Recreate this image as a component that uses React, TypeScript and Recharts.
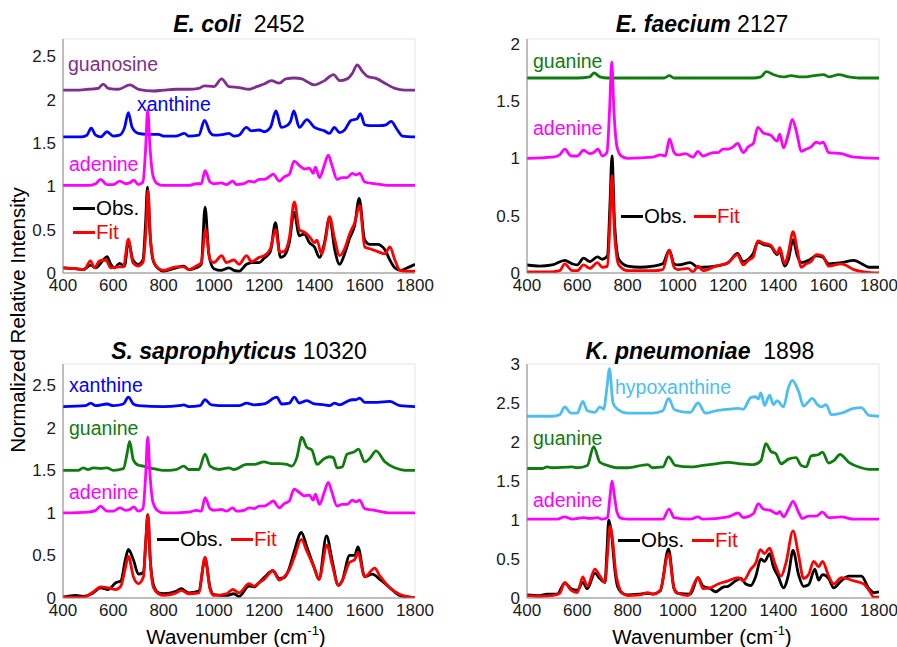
import React from 'react';
import { LineChart, Line, XAxis, YAxis, CartesianGrid } from 'recharts';

type P = [number, number][];

// ---------- E. coli 2452 ----------
const ecoliGuanosine: P = [[400,2.11],[450,2.11],[500,2.12],[540,2.13],[560,2.18],[580,2.13],[620,2.12],[666,2.17],[700,2.12],[760,2.10],[800,2.11],[850,2.12],[900,2.12],[940,2.13],[962,2.16],[1000,2.15],[1031,2.24],[1060,2.15],[1100,2.14],[1140,2.12],[1170,2.15],[1200,2.18],[1229,2.22],[1260,2.19],[1286,2.24],[1320,2.25],[1350,2.24],[1375,2.20],[1399,2.17],[1440,2.22],[1476,2.29],[1500,2.22],[1530,2.24],[1550,2.30],[1570,2.40],[1590,2.33],[1610,2.27],[1650,2.24],[1680,2.19],[1720,2.13],[1760,2.11],[1800,2.11]];
const ecoliXanthine: P = [[400,1.57],[470,1.57],[495,1.59],[512,1.67],[530,1.59],[550,1.57],[575,1.63],[600,1.58],[625,1.59],[645,1.68],[660,1.85],[675,1.68],[700,1.61],[730,1.60],[780,1.60],[800,1.58],[850,1.58],[883,1.61],[900,1.58],[940,1.59],[963,1.76],[985,1.62],[1000,1.59],[1040,1.60],[1060,1.61],[1080,1.58],[1100,1.59],[1129,1.68],[1150,1.64],[1180,1.65],[1200,1.63],[1225,1.68],[1247,1.87],[1268,1.68],[1290,1.70],[1305,1.75],[1318,1.87],[1340,1.68],[1370,1.77],[1400,1.68],[1440,1.64],[1460,1.61],[1479,1.68],[1500,1.62],[1520,1.65],[1545,1.76],[1570,1.78],[1583,1.84],[1600,1.71],[1620,1.70],[1660,1.70],[1685,1.71],[1705,1.75],[1730,1.65],[1750,1.58],[1800,1.57]];
const ecoliAdenine: P = [[400,1.01],[500,1.01],[530,1.03],[549,1.08],[575,1.02],[600,1.02],[626,1.06],[650,1.03],[665,1.04],[682,1.07],[700,1.02],[718,1.05],[728,1.40],[737,1.88],[746,1.45],[758,1.12],[775,1.03],[800,1.01],[900,1.01],[930,1.03],[950,1.03],[965,1.18],[985,1.05],[1000,1.03],[1030,1.04],[1050,1.02],[1075,1.06],[1090,1.02],[1120,1.03],[1140,1.06],[1160,1.05],[1180,1.08],[1200,1.08],[1220,1.11],[1236,1.14],[1260,1.06],[1280,1.11],[1300,1.14],[1319,1.29],[1340,1.24],[1360,1.20],[1380,1.21],[1395,1.15],[1404,1.22],[1420,1.10],[1440,1.25],[1455,1.36],[1470,1.24],[1490,1.08],[1510,1.10],[1530,1.10],[1550,1.15],[1565,1.13],[1580,1.15],[1600,1.05],[1640,1.03],[1700,1.01],[1800,1.01]];
const ecoliObs: P = [[400,0.06],[450,0.05],[480,0.04],[510,0.09],[530,0.06],[560,0.15],[575,0.19],[590,0.10],[605,0.06],[625,0.11],[645,0.08],[660,0.37],[678,0.15],[700,0.10],[718,0.15],[728,0.55],[736,0.99],[746,0.45],[760,0.13],[780,0.05],[800,0.02],[850,0.06],[880,0.08],[900,0.04],[930,0.06],[950,0.10],[965,0.76],[980,0.22],[1000,0.05],[1030,0.03],[1060,0.06],[1080,0.03],[1100,0.02],[1130,0.10],[1150,0.12],[1180,0.12],[1200,0.17],[1225,0.25],[1245,0.58],[1265,0.18],[1280,0.20],[1300,0.35],[1319,0.70],[1340,0.43],[1360,0.45],[1380,0.35],[1400,0.30],[1420,0.18],[1440,0.35],[1460,0.64],[1480,0.28],[1500,0.10],[1520,0.22],[1540,0.40],[1560,0.55],[1578,0.86],[1600,0.38],[1620,0.33],[1650,0.33],[1680,0.27],[1700,0.15],[1720,0.06],[1745,0.03],[1770,0.06],[1800,0.10]];
const ecoliFit: P = [[400,0.06],[450,0.05],[485,0.04],[509,0.14],[525,0.06],[545,0.14],[570,0.15],[590,0.06],[620,0.07],[640,0.07],[660,0.39],[678,0.12],[700,0.08],[718,0.12],[730,0.50],[738,0.95],[748,0.40],[762,0.12],[780,0.05],[800,0.03],[850,0.07],[880,0.07],[900,0.04],[930,0.08],[950,0.12],[967,0.50],[985,0.15],[1000,0.12],[1031,0.20],[1050,0.12],[1080,0.15],[1100,0.10],[1130,0.20],[1150,0.13],[1180,0.18],[1200,0.20],[1225,0.28],[1245,0.50],[1262,0.24],[1280,0.25],[1300,0.40],[1320,0.82],[1340,0.50],[1360,0.47],[1380,0.42],[1400,0.35],[1410,0.38],[1428,0.22],[1445,0.40],[1460,0.65],[1480,0.40],[1500,0.20],[1520,0.28],[1540,0.45],[1560,0.58],[1580,0.78],[1600,0.30],[1620,0.28],[1650,0.25],[1680,0.22],[1700,0.30],[1720,0.15],[1740,0.03],[1760,0.02],[1800,0.02]];

// ---------- E. faecium 2127 ----------
const efGuanine: P = [[400,1.70],[600,1.70],[650,1.71],[666,1.745],[690,1.71],[720,1.70],[900,1.70],[945,1.70],[966,1.72],[985,1.70],[1300,1.70],[1330,1.71],[1352,1.755],[1380,1.73],[1420,1.71],[1450,1.72],[1490,1.71],[1510,1.71],[1540,1.72],[1580,1.73],[1600,1.71],[1640,1.73],[1680,1.71],[1720,1.70],[1800,1.70]];
const efAdenine: P = [[400,1.00],[500,1.01],[530,1.03],[550,1.08],[575,1.02],[600,1.02],[625,1.07],[650,1.04],[665,1.05],[682,1.08],[700,1.02],[718,1.05],[728,1.40],[737,1.84],[746,1.40],[758,1.10],[775,1.02],[800,1.00],[900,1.01],[930,1.03],[950,1.02],[967,1.17],[985,1.05],[1000,1.03],[1030,1.04],[1060,1.01],[1080,1.06],[1100,1.02],[1140,1.05],[1160,1.05],[1180,1.08],[1200,1.08],[1220,1.10],[1238,1.13],[1260,1.05],[1280,1.10],[1300,1.13],[1318,1.27],[1340,1.22],[1370,1.20],[1395,1.15],[1405,1.21],[1420,1.09],[1440,1.22],[1455,1.34],[1475,1.20],[1490,1.06],[1510,1.08],[1530,1.10],[1550,1.14],[1565,1.13],[1578,1.14],[1600,1.05],[1650,1.04],[1700,1.01],[1800,1.00]];
const efObs: P = [[400,0.07],[450,0.06],[500,0.07],[550,0.11],[580,0.08],[600,0.07],[625,0.13],[650,0.10],[680,0.14],[700,0.12],[720,0.15],[730,0.60],[738,1.02],[748,0.45],[765,0.12],[800,0.06],[850,0.05],[900,0.06],[940,0.08],[966,0.20],[985,0.08],[1000,0.07],[1050,0.09],[1080,0.05],[1100,0.05],[1150,0.06],[1200,0.09],[1237,0.17],[1260,0.10],[1280,0.12],[1300,0.17],[1318,0.27],[1340,0.25],[1370,0.23],[1395,0.16],[1405,0.19],[1425,0.06],[1440,0.12],[1458,0.29],[1475,0.15],[1490,0.09],[1520,0.11],[1550,0.15],[1575,0.14],[1600,0.08],[1650,0.09],[1700,0.11],[1740,0.07],[1760,0.05],[1800,0.05]];
const efFit: P = [[400,0.01],[500,0.01],[530,0.02],[550,0.08],[580,0.02],[600,0.02],[625,0.07],[650,0.04],[680,0.09],[700,0.05],[720,0.06],[730,0.45],[738,0.85],[748,0.35],[765,0.07],[800,0.02],[900,0.02],[940,0.03],[966,0.20],[985,0.05],[1000,0.03],[1040,0.04],[1060,0.01],[1080,0.06],[1100,0.02],[1150,0.06],[1200,0.09],[1237,0.16],[1260,0.07],[1280,0.11],[1300,0.14],[1318,0.28],[1340,0.26],[1370,0.24],[1395,0.17],[1405,0.22],[1425,0.08],[1440,0.18],[1458,0.36],[1475,0.20],[1490,0.05],[1510,0.08],[1530,0.10],[1550,0.16],[1575,0.15],[1600,0.06],[1650,0.08],[1700,0.03],[1740,0.01],[1800,0.00]];

// ---------- S. saprophyticus 10320 ----------
const ssXanthine: P = [[400,2.25],[490,2.26],[510,2.29],[530,2.26],[575,2.28],[600,2.26],[640,2.28],[660,2.36],[680,2.28],[700,2.26],[800,2.25],[860,2.26],[880,2.27],[900,2.25],[945,2.26],[965,2.33],[990,2.27],[1050,2.26],[1100,2.26],[1130,2.29],[1160,2.27],[1200,2.28],[1250,2.36],[1270,2.28],[1300,2.29],[1320,2.36],[1340,2.29],[1370,2.32],[1400,2.28],[1440,2.27],[1460,2.26],[1480,2.29],[1500,2.27],[1530,2.31],[1550,2.33],[1565,2.33],[1580,2.35],[1600,2.30],[1650,2.30],[1700,2.31],[1740,2.26],[1800,2.25]];
const ssGuanine: P = [[400,1.50],[460,1.50],[480,1.53],[500,1.51],[520,1.53],[550,1.52],[575,1.53],[600,1.50],[640,1.52],[655,1.70],[665,1.84],[680,1.62],[700,1.56],[720,1.55],[740,1.53],[760,1.52],[800,1.50],[850,1.51],[880,1.55],[900,1.51],[940,1.51],[965,1.69],[985,1.55],[1020,1.51],[1060,1.53],[1080,1.51],[1130,1.57],[1160,1.57],[1200,1.60],[1230,1.58],[1260,1.58],[1290,1.57],[1310,1.55],[1330,1.65],[1350,1.89],[1370,1.77],[1390,1.74],[1410,1.57],[1440,1.64],[1460,1.66],[1475,1.65],[1490,1.53],[1510,1.54],[1530,1.69],[1560,1.72],[1575,1.75],[1600,1.60],[1620,1.64],[1645,1.73],[1680,1.60],[1720,1.53],[1760,1.50],[1800,1.50]];
const ssAdenine: P = [[400,1.00],[500,1.01],[530,1.03],[549,1.08],[575,1.02],[600,1.02],[626,1.06],[650,1.03],[665,1.04],[682,1.07],[700,1.02],[718,1.05],[728,1.40],[737,1.89],[746,1.45],[758,1.12],[775,1.03],[800,1.00],[900,1.01],[930,1.03],[950,1.02],[965,1.18],[985,1.05],[1000,1.03],[1030,1.04],[1050,1.02],[1075,1.06],[1090,1.02],[1120,1.03],[1140,1.06],[1160,1.05],[1180,1.08],[1200,1.08],[1220,1.11],[1236,1.14],[1260,1.06],[1280,1.11],[1300,1.14],[1319,1.28],[1340,1.24],[1360,1.20],[1380,1.21],[1395,1.15],[1404,1.22],[1420,1.10],[1440,1.25],[1455,1.36],[1470,1.24],[1490,1.08],[1510,1.10],[1530,1.10],[1550,1.15],[1565,1.13],[1580,1.15],[1600,1.05],[1640,1.03],[1700,1.00],[1800,1.00]];
const ssObs: P = [[400,0.01],[450,0.03],[480,0.02],[520,0.06],[550,0.12],[580,0.10],[610,0.18],[630,0.20],[648,0.45],[660,0.57],[680,0.45],[700,0.28],[720,0.30],[729,0.65],[737,0.98],[747,0.45],[760,0.15],[780,0.06],[800,0.05],[850,0.08],[870,0.11],[900,0.06],[940,0.08],[965,0.46],[985,0.12],[1000,0.04],[1050,0.03],[1080,0.05],[1100,0.02],[1140,0.14],[1160,0.13],[1180,0.18],[1200,0.24],[1235,0.32],[1260,0.23],[1280,0.24],[1300,0.35],[1320,0.55],[1348,0.77],[1370,0.60],[1400,0.35],[1418,0.22],[1448,0.73],[1470,0.45],[1495,0.15],[1510,0.20],[1540,0.50],[1560,0.50],[1573,0.60],[1600,0.25],[1630,0.28],[1660,0.22],[1700,0.12],[1740,0.03],[1780,0.01],[1800,0.00]];
const ssFit: P = [[400,0.01],[450,0.01],[480,0.01],[520,0.07],[550,0.13],[580,0.12],[610,0.10],[630,0.14],[648,0.35],[660,0.49],[680,0.25],[700,0.17],[720,0.25],[729,0.65],[738,0.98],[748,0.40],[760,0.12],[780,0.05],[800,0.03],[850,0.06],[870,0.09],[900,0.05],[940,0.06],[965,0.48],[985,0.10],[1000,0.03],[1050,0.05],[1075,0.10],[1100,0.06],[1140,0.17],[1160,0.14],[1180,0.18],[1200,0.22],[1235,0.32],[1260,0.21],[1280,0.25],[1300,0.33],[1320,0.48],[1348,0.69],[1370,0.55],[1400,0.35],[1418,0.22],[1450,0.62],[1470,0.40],[1495,0.15],[1510,0.20],[1540,0.42],[1560,0.45],[1573,0.53],[1600,0.25],[1640,0.35],[1660,0.26],[1700,0.12],[1740,0.04],[1780,0.01],[1800,0.00]];

// ---------- K. pneumoniae 1898 ----------
const kpHypoxanthine: P = [[400,2.33],[500,2.33],[530,2.35],[550,2.45],[575,2.37],[600,2.37],[622,2.52],[640,2.40],[670,2.38],[690,2.45],[705,2.42],[718,2.70],[728,2.94],[742,2.50],[760,2.42],[800,2.37],[900,2.37],[940,2.40],[963,2.56],[985,2.42],[1000,2.40],[1050,2.38],[1080,2.50],[1110,2.37],[1150,2.40],[1200,2.42],[1240,2.43],[1260,2.42],[1290,2.57],[1310,2.58],[1320,2.55],[1330,2.63],[1345,2.47],[1365,2.60],[1380,2.48],[1395,2.53],[1420,2.45],[1440,2.70],[1455,2.79],[1480,2.65],[1500,2.46],[1520,2.52],[1535,2.56],[1555,2.48],[1570,2.45],[1590,2.48],[1610,2.35],[1650,2.37],[1700,2.43],[1730,2.44],[1760,2.34],[1800,2.33]];
const kpGuanine: P = [[400,1.66],[460,1.66],[480,1.68],[500,1.67],[580,1.68],[600,1.67],[640,1.70],[665,1.94],[690,1.74],[720,1.70],[760,1.67],[800,1.67],[880,1.71],[900,1.67],[940,1.68],[963,1.81],[990,1.70],[1050,1.68],[1100,1.70],[1150,1.72],[1200,1.74],[1250,1.72],[1300,1.71],[1330,1.76],[1350,1.98],[1370,1.88],[1390,1.85],[1410,1.72],[1440,1.78],[1470,1.80],[1490,1.70],[1510,1.68],[1530,1.82],[1560,1.84],[1575,1.87],[1600,1.73],[1620,1.76],[1645,1.84],[1680,1.74],[1720,1.68],[1760,1.65],[1800,1.65]];
const kpAdenine: P = [[400,1.01],[520,1.01],[550,1.04],[580,1.01],[625,1.03],[650,1.02],[680,1.03],[700,1.01],[720,1.03],[730,1.30],[738,1.50],[748,1.30],[758,1.10],[775,1.02],[800,1.01],[940,1.01],[965,1.14],[985,1.03],[1050,1.01],[1080,1.04],[1100,1.01],[1200,1.04],[1240,1.09],[1260,1.03],[1300,1.08],[1320,1.21],[1340,1.14],[1370,1.12],[1395,1.08],[1405,1.11],[1420,1.04],[1440,1.14],[1458,1.24],[1480,1.10],[1495,1.02],[1520,1.05],[1550,1.05],[1575,1.10],[1600,1.03],[1650,1.04],[1700,1.01],[1800,1.01]];
const kpObs: P = [[400,0.04],[450,0.03],[480,0.05],[520,0.05],[550,0.19],[575,0.12],[600,0.10],[622,0.20],[640,0.12],[670,0.32],[690,0.25],[710,0.20],[718,0.60],[725,1.00],[737,0.80],[748,0.40],[760,0.15],[780,0.06],[800,0.04],[850,0.05],[880,0.06],[900,0.05],[930,0.09],[963,0.63],[985,0.12],[1000,0.06],[1050,0.05],[1080,0.26],[1100,0.15],[1130,0.12],[1150,0.08],[1180,0.14],[1200,0.15],[1230,0.22],[1250,0.25],[1270,0.18],[1290,0.16],[1310,0.28],[1330,0.50],[1345,0.47],[1365,0.57],[1380,0.40],[1400,0.27],[1420,0.13],[1440,0.30],[1458,0.61],[1480,0.30],[1500,0.15],[1520,0.17],[1545,0.37],[1560,0.23],[1575,0.30],[1600,0.25],[1620,0.13],[1650,0.22],[1680,0.28],[1700,0.28],[1730,0.28],[1760,0.12],[1780,0.07],[1800,0.08]];
const kpFit: P = [[400,0.03],[450,0.02],[500,0.03],[530,0.06],[550,0.20],[575,0.10],[600,0.07],[622,0.27],[640,0.15],[670,0.37],[690,0.28],[710,0.20],[720,0.55],[730,0.92],[742,0.70],[752,0.35],[765,0.15],[780,0.06],[800,0.03],[850,0.04],[880,0.07],[900,0.05],[930,0.10],[963,0.57],[985,0.12],[1000,0.06],[1040,0.03],[1080,0.26],[1100,0.12],[1130,0.13],[1160,0.18],[1200,0.22],[1240,0.26],[1260,0.22],[1290,0.37],[1310,0.45],[1328,0.62],[1345,0.57],[1365,0.64],[1385,0.45],[1410,0.28],[1430,0.45],[1458,0.86],[1480,0.55],[1500,0.25],[1520,0.30],[1540,0.47],[1560,0.40],[1575,0.47],[1600,0.28],[1620,0.18],[1650,0.26],[1700,0.22],[1740,0.18],[1760,0.10],[1780,0.01],[1800,0.01]];

const xTicks = [400, 600, 800, 1000, 1200, 1400, 1600, 1800];
const minorTicks = Array.from({ length: 71 }, (_, i) => 400 + i * 20);

const C = {
  obs: '#000000',
  fit: '#ff0000',
  adenine: '#ff00ff',
  xanthine: '#0000ff',
  guanine: '#107c10',
  guanosine: '#7e2f8e',
  hypoxanthine: '#4dbeee',
};

const FONT = '"Liberation Sans", Arial, Helvetica, sans-serif';

type Series = { data: P; color: string };

type Label = { text: string; color: string; left: number; top: number };

type PanelProps = {
  left: number;
  top: number;
  yMax: number;
  yTicks: number[];
  series: Series[];
};

const toRows = (p: P) => p.map(([x, y]) => ({ x, y }));

const PLOT_W = 352;
const PLOT_H = 234;
const YAX_W = 40;
const M_TOP = 10;
const M_RIGHT = 24;
const XAX_H = 30;

function Panel({ left, top, yMax, yTicks, series }: PanelProps) {
  const width = YAX_W + PLOT_W + M_RIGHT;
  const height = M_TOP + PLOT_H + XAX_H;
  return (
    <div style={{ position: 'absolute', left: left - YAX_W, top: top - M_TOP }}>
      <LineChart width={width} height={height} margin={{ top: M_TOP, right: M_RIGHT, left: 0, bottom: 0 }}>
        <CartesianGrid stroke="#e6e6e6" strokeWidth={1} />
        <XAxis
          xAxisId="b"
          type="number"
          dataKey="x"
          domain={[400, 1800]}
          ticks={xTicks}
          allowDataOverflow
          interval={0}
          height={XAX_H}
          tickLine={false}
          tickSize={5}
          tickMargin={1}
          axisLine={{ stroke: '#888', strokeWidth: 1 }}
          tick={{ fontSize: 17, fill: '#1a1a1a', fontFamily: FONT }}
        />
        <XAxis
          xAxisId="t"
          orientation="top"
          type="number"
          dataKey="x"
          domain={[400, 1800]}
          ticks={minorTicks}
          interval={0}
          height={0}
          mirror
          tickSize={2}
          tickFormatter={() => ''}
          tickLine={{ stroke: '#999' }}
          axisLine={{ stroke: '#888', strokeWidth: 1 }}
        />
        <YAxis
          yAxisId="l"
          type="number"
          domain={[0, yMax]}
          ticks={yTicks}
          allowDataOverflow
          interval={0}
          width={YAX_W}
          tickLine={false}
          tickSize={5}
          tickMargin={2}
          axisLine={{ stroke: '#888', strokeWidth: 1 }}
          tick={{ fontSize: 17, fill: '#1a1a1a', fontFamily: FONT }}
        />
        <YAxis
          yAxisId="r"
          orientation="right"
          type="number"
          domain={[0, yMax]}
          ticks={yTicks}
          interval={0}
          width={0}
          mirror
          tickSize={4}
          tickFormatter={() => ''}
          tickLine={{ stroke: '#888' }}
          axisLine={{ stroke: '#888', strokeWidth: 1 }}
        />
        {series.map((s, i) => (
          <Line
            key={i}
            xAxisId="b"
            yAxisId="l"
            data={toRows(s.data)}
            dataKey="y"
            type="monotone"
            stroke={s.color}
            strokeWidth={2.8}
            dot={false}
            activeDot={false}
            isAnimationActive={false}
          />
        ))}
      </LineChart>
    </div>
  );
}

function Title({ cx, cy, italic, num }: { cx: number; cy: number; italic: string; num: string }) {
  return (
    <div
      style={{
        position: 'absolute',
        left: cx - 220,
        top: cy - 14,
        width: 440,
        textAlign: 'center',
        fontFamily: FONT,
        fontSize: 23,
        lineHeight: '28px',
        color: '#000',
        whiteSpace: 'pre',
      }}
    >
      <span style={{ fontWeight: 'bold', fontStyle: 'italic' }}>{italic}</span>
      <span>{num}</span>
    </div>
  );
}

function Tag({ text, color, left, top }: Label) {
  return (
    <div
      style={{
        position: 'absolute',
        left,
        top: top - 12,
        fontFamily: FONT,
        fontSize: 19.5,
        lineHeight: '24px',
        color,
        whiteSpace: 'nowrap',
      }}
    >
      {text}
    </div>
  );
}

function LegItem({ left, cy, color, text }: { left: number; cy: number; color: string; text: string }) {
  return (
    <div style={{ position: 'absolute', left, top: cy - 12, height: 24, display: 'flex', alignItems: 'center' }}>
      <div style={{ width: 22, height: 3, background: color, marginRight: 1 }} />
      <span style={{ fontFamily: FONT, fontSize: 20.5, lineHeight: '24px', color }}>{text}</span>
    </div>
  );
}

function XLabel({ cx, cy }: { cx: number; cy: number }) {
  return (
    <div
      style={{
        position: 'absolute',
        left: cx - 150,
        top: cy - 12,
        width: 300,
        textAlign: 'center',
        fontFamily: FONT,
        fontSize: 20.5,
        lineHeight: '24px',
        color: '#000',
      }}
    >
      Wavenumber (cm<sup style={{ fontSize: 13, verticalAlign: 'top', lineHeight: '12px' }}>-1</sup>)
    </div>
  );
}

export default function App() {
  return (
    <div
      style={{
        position: 'absolute',
        left: 0,
        top: 0,
        width: 897,
        height: 647,
        background: '#fff',
        overflow: 'hidden',
      }}
    >
      <Panel
        left={62.7}
        top={39}
        yMax={2.7}
        yTicks={[0, 0.5, 1, 1.5, 2, 2.5]}
        series={[
          { data: ecoliGuanosine, color: C.guanosine },
          { data: ecoliXanthine, color: C.xanthine },
          { data: ecoliAdenine, color: C.adenine },
          { data: ecoliObs, color: C.obs },
          { data: ecoliFit, color: C.fit },
        ]}
      />
      <Panel
        left={526.7}
        top={39}
        yMax={2.04}
        yTicks={[0, 0.5, 1, 1.5, 2]}
        series={[
          { data: efGuanine, color: C.guanine },
          { data: efAdenine, color: C.adenine },
          { data: efObs, color: C.obs },
          { data: efFit, color: C.fit },
        ]}
      />
      <Panel
        left={62.7}
        top={364.3}
        yMax={2.75}
        yTicks={[0, 0.5, 1, 1.5, 2, 2.5]}
        series={[
          { data: ssXanthine, color: C.xanthine },
          { data: ssGuanine, color: C.guanine },
          { data: ssAdenine, color: C.adenine },
          { data: ssObs, color: C.obs },
          { data: ssFit, color: C.fit },
        ]}
      />
      <Panel
        left={526.7}
        top={364.3}
        yMax={3}
        yTicks={[0, 0.5, 1, 1.5, 2, 2.5, 3]}
        series={[
          { data: kpHypoxanthine, color: C.hypoxanthine },
          { data: kpGuanine, color: C.guanine },
          { data: kpAdenine, color: C.adenine },
          { data: kpObs, color: C.obs },
          { data: kpFit, color: C.fit },
        ]}
      />

      <Title cx={239} cy={24} italic="E. coli" num={'\u00a0\u00a02452'} />
      <Title cx={702} cy={24} italic="E. faecium" num={'\u00a02127'} />
      <Title cx={239} cy={351} italic="S. saprophyticus" num={'\u00a010320'} />
      <Title cx={700} cy={351} italic="K. pneumoniae" num={'\u00a0\u00a01898'} />

      <Tag text="guanosine" color={C.guanosine} left={68} top={64} />
      <Tag text="xanthine" color={C.xanthine} left={137} top={104} />
      <Tag text="adenine" color={C.adenine} left={69} top={164} />
      <LegItem left={73} cy={208} color={C.obs} text="Obs." />
      <LegItem left={73} cy={232} color={C.fit} text="Fit" />

      <Tag text="guanine" color={C.guanine} left={533} top={61} />
      <Tag text="adenine" color={C.adenine} left={533} top={128} />
      <LegItem left={621} cy={216} color={C.obs} text="Obs." />
      <LegItem left={694} cy={216} color={C.fit} text="Fit" />

      <Tag text="xanthine" color={C.xanthine} left={69} top={385} />
      <Tag text="guanine" color={C.guanine} left={69} top={428} />
      <Tag text="adenine" color={C.adenine} left={69} top={492} />
      <LegItem left={157} cy={539} color={C.obs} text="Obs." />
      <LegItem left={231} cy={539} color={C.fit} text="Fit" />

      <Tag text="hypoxanthine" color={C.hypoxanthine} left={615} top={387} />
      <Tag text="guanine" color={C.guanine} left={533} top={438} />
      <Tag text="adenine" color={C.adenine} left={533} top={500} />
      <LegItem left={618} cy={540} color={C.obs} text="Obs." />
      <LegItem left={692} cy={540} color={C.fit} text="Fit" />

      <div
        style={{
          position: 'absolute',
          left: 18 - 170,
          top: 320 - 12,
          width: 340,
          textAlign: 'center',
          transform: 'rotate(-90deg)',
          fontFamily: FONT,
          fontSize: 20.5,
          lineHeight: '24px',
          color: '#000',
        }}
      >
        Normalized Relative Intensity
      </div>

      <XLabel cx={236} cy={637} />
      <XLabel cx={702} cy={637} />
    </div>
  );
}
